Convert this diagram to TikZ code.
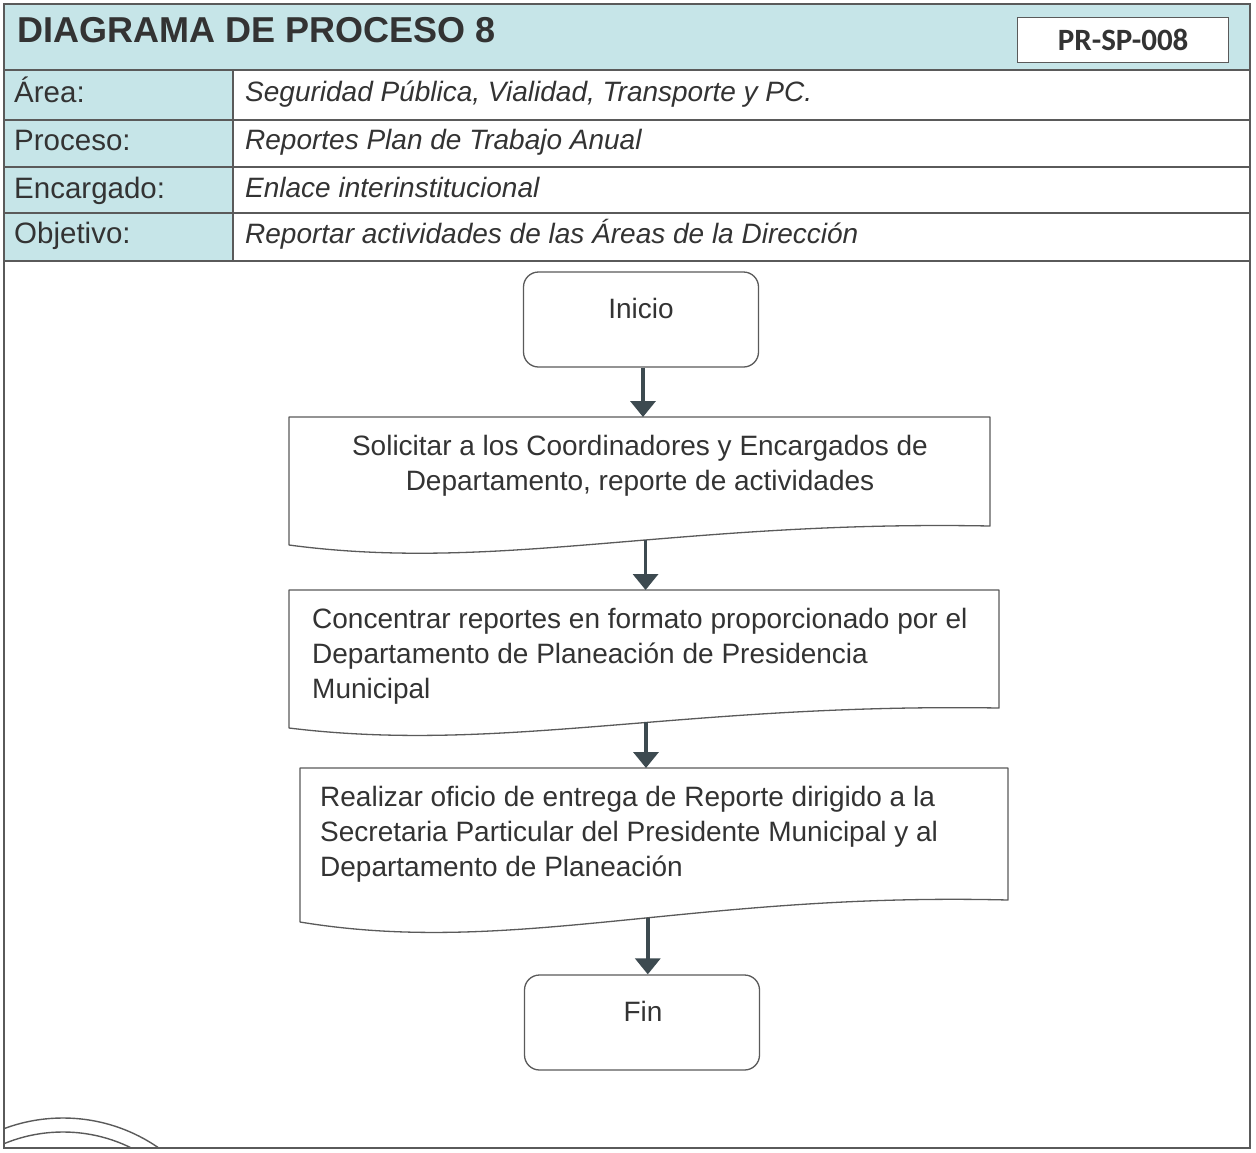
\documentclass[tikz,border=0pt]{standalone}
\usepackage{fontspec}
\setmainfont{Liberation Sans}
\newfontfamily\carlfont{Carlito}
\usetikzlibrary{arrows.meta}
\definecolor{hdrfill}{HTML}{C6E5E8}
\definecolor{linec}{HTML}{5A5A5A}
\definecolor{txtc}{HTML}{333333}
\definecolor{arrc}{HTML}{3D4A50}
\begin{document}
\begin{tikzpicture}[x=1pt,y=-1pt,
  grid/.style={draw=linec, line width=1.3pt},
  lbl/.style={anchor=base west, inner sep=0, text=txtc, font=\fontsize{29.5}{34}\selectfont},
  val/.style={anchor=base west, inner sep=0, text=txtc, font=\itshape\fontsize{28}{34}\selectfont},
  term/.style={draw=linec, line width=1.3pt, rounded corners=15pt, minimum width=235pt, minimum height=95pt, inner sep=0},
  docshape/.style={draw=linec, line width=1.3pt, line join=round},
  body/.style={inner sep=0, text=txtc, font=\fontsize{28}{35}\selectfont},
  arr/.style={draw=arrc, line width=3.5pt, -{Triangle[width=25pt,length=16pt]}},
  stamp/.style={draw=linec, line width=1.4pt}
]
\useasboundingbox (0,0) rectangle (1256,1152);
\fill[white] (0,0) rectangle (1256,1152);

% header and table
\fill[hdrfill] (4,4) rectangle (1250,70);
\fill[hdrfill] (4,70) rectangle (233,261);
\draw[grid] (4,4) rectangle (1250,1148);
\draw[grid] (4,70) -- (1250,70);
\draw[grid] (4,120) -- (1250,120);
\draw[grid] (4,167) -- (1250,167);
\draw[grid] (4,213) -- (1250,213);
\draw[grid] (4,261) -- (1250,261);
\draw[grid] (233,70) -- (233,261);

\node[anchor=base west, inner sep=0, text=txtc, font=\bfseries\fontsize{36}{40}\selectfont] (title) at (17,42) {DIAGRAMA DE PROCESO 8};
\node[draw=linec, line width=1.3pt, fill=white, minimum width=211pt, minimum height=45pt, inner sep=0, anchor=north west, text=txtc, font=\carlfont\bfseries\fontsize{31}{34}\selectfont] (code) at (1017,17) {PR-SP-008};

\node[lbl] (l1) at (14,102) {Área:};
\node[lbl] (l2) at (14,150) {Proceso:};
\node[lbl] (l3) at (14,198) {Encargado:};
\node[lbl] (l4) at (14,243) {Objetivo:};
\node[val] (v1) at (245,101) {Seguridad Pública, Vialidad, Transporte y PC.};
\node[val] (v2) at (245,149) {Reportes Plan de Trabajo Anual};
\node[val] (v3) at (245,197) {Enlace interinstitucional};
\node[val] (v4) at (245,243) {Reportar actividades de las Áreas de la Dirección};

% flowchart
\node[term] (ini) at (641,319.5) {};
\node[body, anchor=base] (iniT) at (641,318) {Inicio};

% document 1
\draw[docshape] (289,417) -- (990,417) -- (990,526)
  .. controls (674.6,520) and (499.3,573) .. coordinate[pos=0.432] (d1b) (289,545) -- cycle;
\coordinate (d1t) at (643,417);
\node[body, anchor=north, align=center] (d1) at (640,435) {Solicitar a los Coordinadores y Encargados de\\Departamento, reporte de actividades};

% document 2
\draw[docshape] (289,590) -- (999,590) -- (999,708)
  .. controls (679.5,703) and (502,754) .. coordinate[pos=0.438] (d2b) (289,728) -- cycle;
\coordinate (d2t) at (643,590);
\node[body, anchor=north west, align=left] (d2) at (312,608) {Concentrar reportes en formato proporcionado por el\\Departamento de Planeación de Presidencia\\Municipal};

% document 3
\draw[docshape] (300,768) -- (1008,768) -- (1008,900)
  .. controls (689.4,892) and (512.4,957) .. coordinate[pos=0.45] (d3b) (300,922) -- cycle;
\coordinate (d3t) at (646,768);
\node[body, anchor=north west, align=left] (d3) at (320,786) {Realizar oficio de entrega de Reporte dirigido a la\\Secretaria Particular del Presidente Municipal y al\\Departamento de Planeación};

\node[term] (fin) at (642,1022.5) {};
\node[body, anchor=base] (finT) at (643,1021) {Fin};

% connectors
\draw[arr] (ini.south -| d1t) -- (d1t);
\draw[arr] (d1b) -- (d1b |- d2t);
\draw[arr] (d2b) -- (d2b |- d3t);
\draw[arr] (d3b) -- (d3b |- fin.north);

% partial stamp at bottom left
\begin{scope}
  \clip (4,4) rectangle (1250,1148);
  \draw[stamp] (63,1286) circle [radius=168];
  \draw[stamp] (63,1286) circle [radius=154];
\end{scope}
\end{tikzpicture}
\end{document}
